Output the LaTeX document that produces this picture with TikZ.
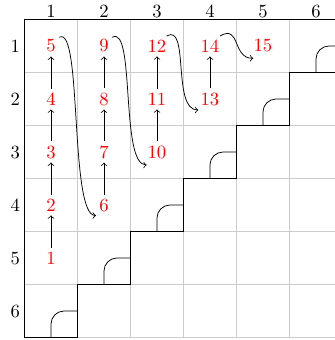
\documentclass[tikz,border=0pt]{standalone}
\begin{document}
\begin{tikzpicture}[
  gridline/.style={gray!40, line width=0.4pt},
  stair/.style={black, line width=0.8pt},
  bump/.style={black, rounded corners=7pt},
  num/.style={red, inner sep=2pt},
  lab/.style={inner sep=0pt},
  uparrow/.style={->},
  curvarrow/.style={->},
]
\useasboundingbox (-0.462,-6.047) rectangle (5.858,0.368);
\clip (-0.462,-6.047) rectangle (5.858,0.368);
\draw[gridline] (0,-6) grid (6.5,0);
\draw[gridline] (6,-6) -- (6.5,-6);
\foreach \i in {1,...,6} {
  \node[lab] (c\i) at (\i-0.5,0.155) {\i};
  \node[lab] (r\i) at (-0.174,-\i+0.5) {\i};
}
% bumps
\foreach \c in {1,...,6} {
  \draw[bump] (\c-0.5,\c-7) |- (\c,\c-6.5);
}
% staircase
\draw[stair] (6.5,0) -- (0,0) -- (0,-6) -- (1,-6) -- (1,-5) -- (2,-5) -- (2,-4) -- (3,-4) -- (3,-3) -- (4,-3) -- (4,-2) -- (5,-2) -- (5,-1) -- (6.5,-1);
% numbers
\node[num] (n1) at (0.5,-4.5) {1};
\node[num] (n2) at (0.5,-3.5) {2};
\node[num] (n3) at (0.5,-2.5) {3};
\node[num] (n4) at (0.5,-1.5) {4};
\node[num] (n5) at (0.5,-0.5) {5};
\node[num] (n6) at (1.5,-3.5) {6};
\node[num] (n7) at (1.5,-2.5) {7};
\node[num] (n8) at (1.5,-1.5) {8};
\node[num] (n9) at (1.5,-0.5) {9};
\node[num] (n10) at (2.5,-2.5) {10};
\node[num] (n11) at (2.5,-1.5) {11};
\node[num] (n12) at (2.5,-0.5) {12};
\node[num] (n13) at (3.5,-1.5) {13};
\node[num] (n14) at (3.5,-0.5) {14};
\node[num] (n15) at (4.5,-0.5) {15};
% vertical arrows
\foreach \a/\b in {n1/n2,n2/n3,n3/n4,n4/n5,n6/n7,n7/n8,n8/n9,n10/n11,n11/n12,n13/n14} {
  \draw[uparrow] (\a) -- (\b);
}
% curved arrows
\draw[curvarrow] ([shift={(0.157,0.164)}]n5.center) .. controls +(30:0.5) and +(180:0.5) .. ([shift={(-0.151,-0.198)}]n6.center);
\draw[curvarrow] ([shift={(0.157,0.164)}]n9.center) .. controls +(30:0.5) and +(180:0.5) .. ([shift={(-0.194,-0.245)}]n10.center);
\draw[curvarrow] ([shift={(0.183,0.189)}]n12.center) .. controls +(30:0.5) and +(180:0.5) .. ([shift={(-0.22,-0.208)}]n13.center);
\draw[curvarrow] ([shift={(0.189,0.189)}]n14.center) .. controls +(30:0.45) and +(180:0.4) .. ([shift={(-0.183,-0.232)}]n15.center);
\end{tikzpicture}
\end{document}
